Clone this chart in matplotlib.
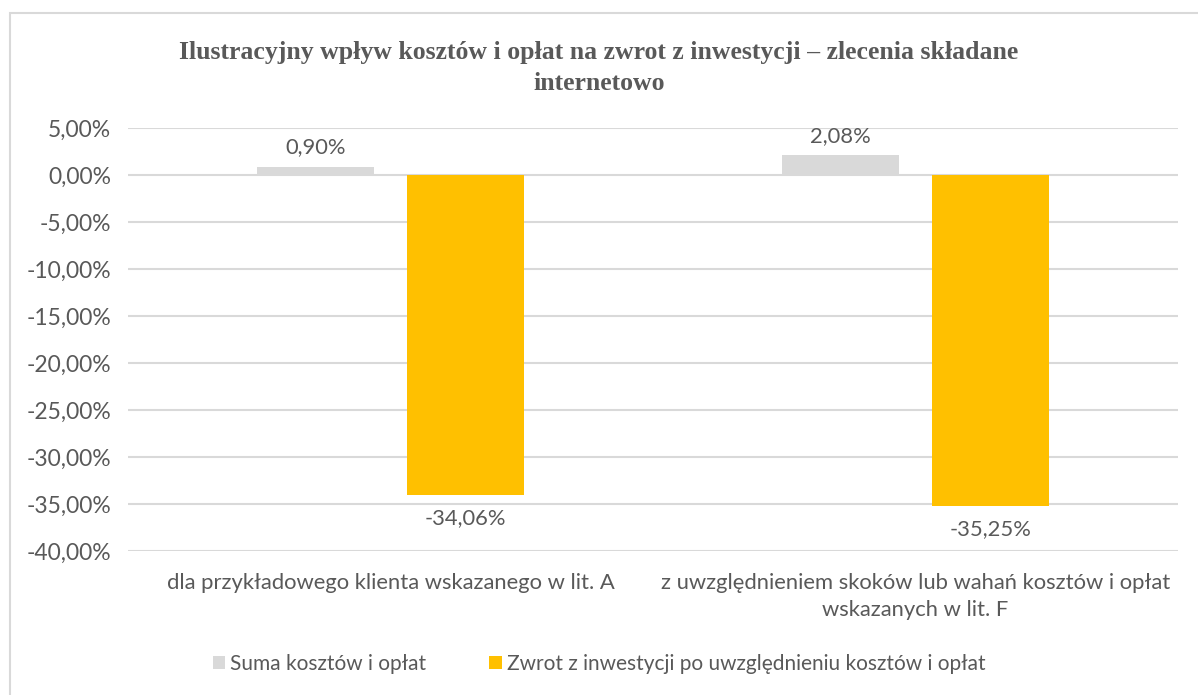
import matplotlib.pyplot as plt
from matplotlib.patches import Rectangle
import numpy as np

categories = ["dla przykładowego klienta wskazanego w lit. A",
              "z uwzględnieniem skoków lub wahań kosztów i opłat\nwskazanych w lit. F"]
series_names = ["Suma kosztów i opłat",
                "Zwrot z inwestycji po uwzględnieniu kosztów i opłat"]
costs = [0.90, 2.08]
returns = [-34.06, -35.25]
yticks = [5, 0, -5, -10, -15, -20, -25, -30, -35, -40]

txt = "#595959"
fs = 15.8
plt.rcParams['font.family'] = ['Lato', 'DejaVu Sans']

fig = plt.figure(figsize=(11.98, 6.95), dpi=100)
ax = fig.add_axes([128 / 1198, 1 - 551 / 695, 1050 / 1198, 423 / 695])

# outer chart frame
fig.patches.append(Rectangle((10 / 1198, -0.1), 1.2, 1 - 13 / 695 + 0.1,
                             transform=fig.transFigure, fill=False,
                             edgecolor="#D9D9D9", lw=1.5))

x = np.arange(len(categories))
w = 0.223
b1 = ax.bar(x - 0.143, costs, w, color="#D9D9D9", label=series_names[0], zorder=3)
b2 = ax.bar(x + 0.143, returns, w, color="#FFC000", label=series_names[1], zorder=3)

for bars, vals in ((b1, costs), (b2, returns)):
    for r, v in zip(bars, vals):
        lab = f"{v:.2f}%".replace(".", ",")
        off = 7 if v >= 0 else -9
        ax.annotate(lab, (r.get_x() + r.get_width() / 2, v), xytext=(0, off),
                    textcoords="offset points", ha="center",
                    va="bottom" if v >= 0 else "top", fontsize=fs, color=txt)

ax.set_xlim(-0.5, 1.5)
ax.set_ylim(-40, 5)
ax.set_yticks(yticks)
ax.set_yticklabels([f"{t:.2f}%".replace(".", ",") for t in yticks], fontsize=16.5, color=txt)
ax.set_xticks(x)
ax.set_xticklabels(categories, fontsize=fs, color=txt, linespacing=1.45)
ax.tick_params(length=0, pad=12)
ax.tick_params(axis="x", pad=16)
ax.grid(axis="y", color="#D9D9D9", lw=1.5, zorder=0)
for s in ax.spines.values():
    s.set_visible(False)

fig.text(0.5, 1 - 68 / 695, "Ilustracyjny wpływ kosztów i opłat na zwrot z inwestycji – zlecenia składane\ninternetowo",
         ha="center", va="center", fontsize=18.5, fontweight="bold", color=txt,
         family="Liberation Serif", linespacing=1.45)

fig.legend(loc="center", bbox_to_anchor=(0.5, 1 - 664 / 695), ncol=2, frameon=False,
           fontsize=15, labelcolor=txt, handlelength=0.6, handleheight=0.6,
           handletextpad=0.25, columnspacing=3.0)

fig.savefig("out.png", dpi=100)
